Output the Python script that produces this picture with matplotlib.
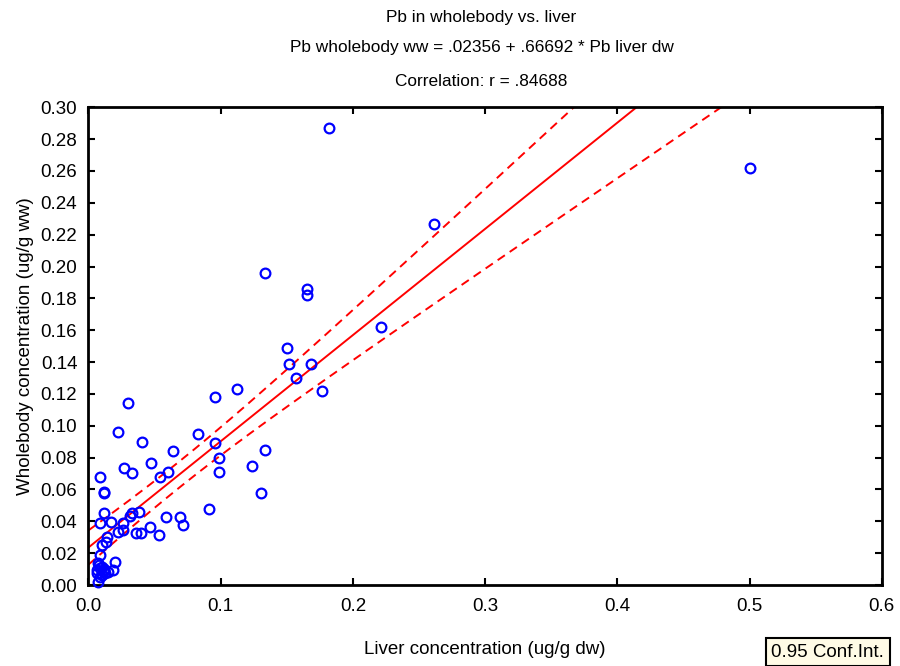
import numpy as np
import matplotlib.pyplot as plt
from matplotlib.ticker import MultipleLocator, FormatStrFormatter

plt.rcParams['font.family'] = ['Liberation Sans', 'DejaVu Sans']

# liver Pb (ug/g dw) and wholebody Pb (ug/g ww)
liver = [0.5006, 0.182, 0.261, 0.1335, 0.165, 0.165, 0.221, 0.150, 0.152, 0.168,
         0.157, 0.177, 0.112, 0.0955, 0.030, 0.0226, 0.083, 0.0408, 0.0955, 0.0638,
         0.1337, 0.0471, 0.0986, 0.0271, 0.0332, 0.124, 0.0986, 0.0605, 0.0542, 0.0089,
         0.0117, 0.0117, 0.1305, 0.0908, 0.0117, 0.0314, 0.0332, 0.0383, 0.059, 0.0693,
         0.0714, 0.0468, 0.0532, 0.036, 0.0398, 0.0221, 0.0259, 0.0259, 0.0168, 0.0087,
         0.0138, 0.0133, 0.010, 0.0089, 0.0198, 0.0074, 0.010, 0.0183, 0.015, 0.0125,
         0.0067, 0.010, 0.0074, 0.0085, 0.012, 0.0065, 0.009, 0.0115, 0.0078]
whole = [0.262, 0.287, 0.227, 0.196, 0.186, 0.182, 0.162, 0.149, 0.139, 0.139,
         0.130, 0.122, 0.123, 0.118, 0.114, 0.096, 0.095, 0.090, 0.089, 0.084,
         0.085, 0.0764, 0.080, 0.0737, 0.0702, 0.075, 0.071, 0.071, 0.0677, 0.0677,
         0.0586, 0.0576, 0.0576, 0.0475, 0.045, 0.0433, 0.045, 0.046, 0.0425, 0.0425,
         0.0375, 0.0362, 0.0312, 0.0325, 0.0325, 0.0335, 0.0345, 0.039, 0.0398, 0.0388,
         0.0303, 0.0268, 0.0251, 0.0188, 0.0146, 0.0136, 0.0115, 0.0094, 0.0084, 0.0073,
         0.0073, 0.0063, 0.0021, 0.0105, 0.010, 0.0095, 0.005, 0.0085, 0.0125]

intercept = 0.02356
slope = 0.66692

x = np.array(liver)
y = np.array(whole)
n = len(x)
resid = y - (intercept + slope * x)
s = np.sqrt(np.sum(resid ** 2) / (n - 2))
sxx = np.sum((x - x.mean()) ** 2)
t = 1.99

xx = np.linspace(0, 0.6, 300)
fit = intercept + slope * xx
half = t * s * np.sqrt(1 / n + (xx - x.mean()) ** 2 / sxx)

fig = plt.figure(figsize=(9, 6.66), dpi=100)
ax = fig.add_axes([0.0983, 0.1216, 0.8814, 0.7173])

ax.plot(xx, fit, color='red', lw=1.4)
ax.plot(xx, fit + half, color='red', lw=1.4, dashes=(4.5, 3))
ax.plot(xx, fit - half, color='red', lw=1.4, dashes=(4.5, 3))
ax.plot(x, y, 'o', mfc='none', mec='blue', ms=7, mew=1.6, clip_on=False, zorder=3)

ax.set_xlim(0, 0.6)
ax.set_ylim(0, 0.30)
ax.xaxis.set_major_locator(MultipleLocator(0.1))
ax.yaxis.set_major_locator(MultipleLocator(0.02))
ax.xaxis.set_major_formatter(FormatStrFormatter('%.1f'))
ax.yaxis.set_major_formatter(FormatStrFormatter('%.2f'))
ax.tick_params(direction='in', length=5, width=1.5, top=True, right=True,
               labelsize=13.5, colors='black')
ax.tick_params(axis='x', pad=9)
ax.tick_params(axis='y', pad=8)
for sp in ax.spines.values():
    sp.set_linewidth(2)

ax.set_xlabel('Liver concentration (ug/g dw)', fontsize=13.5, labelpad=19)
ax.set_ylabel('Wholebody concentration (ug/g ww)', fontsize=13.5, labelpad=5)

fig.text(0.535, 0.974, 'Pb in wholebody vs. liver', ha='center', va='center', fontsize=12.4)
fig.text(0.535, 0.929, 'Pb wholebody ww = .02356 + .66692 * Pb liver dw',
         ha='center', va='center', fontsize=12.4)
fig.text(0.535, 0.878, 'Correlation: r = .84688', ha='center', va='center', fontsize=12.4)

fig.text(0.857, 0.021, '0.95 Conf.Int.', ha='left', va='center', fontsize=13.5,
         bbox=dict(boxstyle='square,pad=0.3', fc='#fffbe6', ec='black', lw=1.5))

fig.savefig('out.png', dpi=100)
